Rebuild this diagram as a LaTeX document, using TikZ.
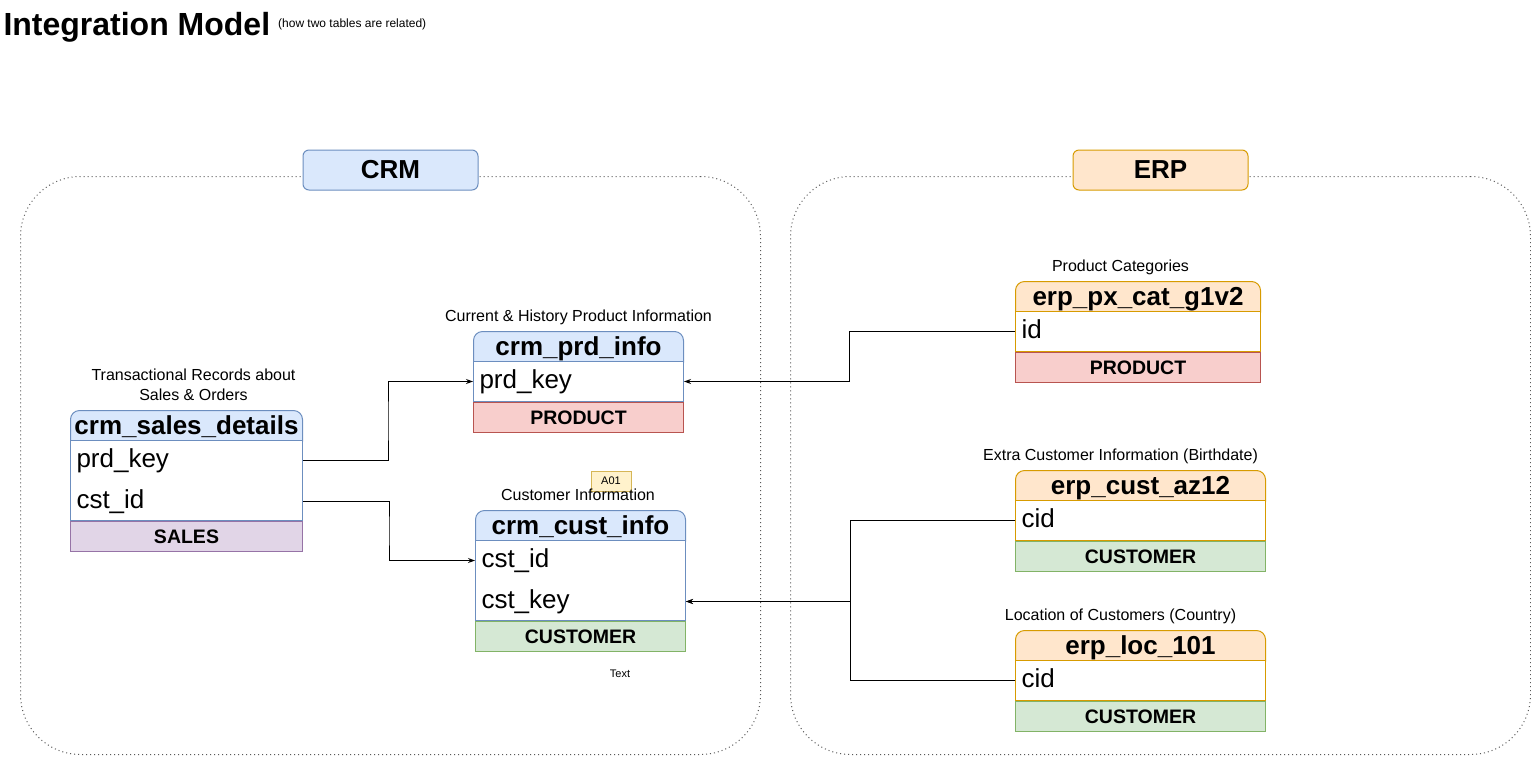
\documentclass[tikz,border=0pt]{standalone}
\usepackage{fontspec}
\setmainfont{Liberation Sans}
\usepackage{xcolor}
\usetikzlibrary{calc, positioning, arrows.meta}

\definecolor{crmfill}{HTML}{DAE8FC}
\definecolor{crmline}{HTML}{6C8EBF}
\definecolor{erpfill}{HTML}{FFE6CC}
\definecolor{erpline}{HTML}{D79B00}
\definecolor{salesfill}{HTML}{E1D5E7}
\definecolor{salesline}{HTML}{9673A6}
\definecolor{prodfill}{HTML}{F8CECC}
\definecolor{prodline}{HTML}{B85450}
\definecolor{custfill}{HTML}{D5E8D4}
\definecolor{custline}{HTML}{82B366}
\definecolor{notefill}{HTML}{FFF2CC}
\definecolor{noteline}{HTML}{D6B656}

\begin{document}
\begin{tikzpicture}[x=1pt, y=-1pt, line width=1pt,
		zone/.style={draw=black!65, dash pattern=on 1pt off 3pt, rounded corners=60pt, anchor=north west, minimum width=740pt, minimum height=578pt},
		zonelabel/.style={draw, rounded corners=6pt, minimum width=175pt, minimum height=40pt, font=\bfseries\fontsize{26}{30}\selectfont},
		tblhead/.style={draw, rounded corners=9pt, anchor=north west, inner xsep=0pt, inner ysep=4pt, text height=20.3pt, text depth=11.7pt, font=\bfseries\fontsize{26}{30}\selectfont},
		tblbody/.style={draw, fill=white, anchor=north west, inner sep=0pt},
		field/.style={anchor=north west, minimum height=40pt, inner xsep=6pt, inner ysep=0pt, align=left, text height=19pt, text depth=5pt, font=\fontsize{26}{30}\selectfont},
		tblfoot/.style={draw, anchor=north west, minimum height=30pt, inner sep=0pt, font=\bfseries\fontsize{19.5}{22}\selectfont},
		caption/.style={align=center, inner sep=0pt, text depth=3.5pt, font=\fontsize{16}{20}\selectfont},
		link/.style={-{Stealth[length=7pt, width=5pt]}}]
	\useasboundingbox (0,0) rectangle (1531,756);

	\node[anchor=base west, inner sep=0pt, font=\bfseries\fontsize{32}{38}\selectfont] (title) at (3,35) {Integration Model};
	\node[anchor=base west, inner sep=0pt, font=\fontsize{12}{14}\selectfont] (subtitle) at ([xshift=7pt, yshift=8pt]title.base east) {(how two tables are related)};

	\begin{scope}
		\node[zone] (crm) at (20,176) {};
		\node[zone] (erp) at (790,176) {};
		\node[zonelabel, fill=crmfill, draw=crmline] (crm-label) at (390.5,170) {CRM};
		\node[zonelabel, fill=erpfill, draw=erpline] (erp-label) at (1160.5,170) {ERP};
	\end{scope}

	\begin{scope}
		\node[tblhead, fill=crmfill, draw=crmline, minimum width=232pt] (sd-head) at (70,410) {crm\_sales\_details};
		\node[tblbody, draw=crmline, minimum width=232pt, minimum height=80pt] (sd-body) at ([yshift=-30pt]sd-head.north west) {};
		\node[field, text width=220pt] (sd-prd) at (sd-body.north west) {prd\_key};
		\node[field, text width=220pt, below=0pt of sd-prd] (sd-cst) {cst\_id};
		\node[tblfoot, fill=salesfill, draw=salesline, minimum width=232pt] (sd-foot) at (sd-body.south west) {SALES};
		\node[caption, above=6pt of sd-head, xshift=7pt] (sd-cap) {Transactional Records about\\Sales \& Orders};

		\node[tblhead, fill=crmfill, draw=crmline, minimum width=210pt] (pi-head) at (473,331) {crm\_prd\_info};
		\node[tblbody, draw=crmline, minimum width=210pt, minimum height=40pt] (pi-body) at ([yshift=-30pt]pi-head.north west) {};
		\node[field, text width=198pt] (pi-prd) at (pi-body.north west) {prd\_key};
		\node[tblfoot, fill=prodfill, draw=prodline, minimum width=210pt] (pi-foot) at (pi-body.south west) {PRODUCT};
		\node[caption, above=6pt of pi-head] (pi-cap) {Current \& History Product Information};

		\node[draw=noteline, fill=notefill, minimum width=40pt, minimum height=20pt, inner sep=0pt, font=\fontsize{11}{13}\selectfont] (note) at (611,481) {A01};

		\node[tblhead, fill=crmfill, draw=crmline, minimum width=210pt] (ci-head) at (475,510) {crm\_cust\_info};
		\node[tblbody, draw=crmline, minimum width=210pt, minimum height=80pt] (ci-body) at ([yshift=-30pt]ci-head.north west) {};
		\node[field, text width=198pt] (ci-id) at (ci-body.north west) {cst\_id};
		\node[field, text width=198pt, below=0pt of ci-id] (ci-key) {cst\_key};
		\node[tblfoot, fill=custfill, draw=custline, minimum width=210pt] (ci-foot) at (ci-body.south west) {CUSTOMER};
		\node[caption, above=6pt of ci-head, xshift=-2.5pt] (ci-cap) {Customer Information};

		\node[inner sep=0pt, font=\fontsize{11}{13}\selectfont] (text) at (620,674) {Text};
	\end{scope}

	\begin{scope}
		\node[tblhead, fill=erpfill, draw=erpline, minimum width=245pt] (px-head) at (1015,281) {erp\_px\_cat\_g1v2};
		\node[tblbody, draw=erpline, minimum width=245pt, minimum height=40pt] (px-body) at ([yshift=-30pt]px-head.north west) {};
		\node[field, text width=233pt] (px-id) at (px-body.north west) {id};
		\node[tblfoot, fill=prodfill, draw=prodline, minimum width=245pt] (px-foot) at (px-body.south west) {PRODUCT};
		\node[caption, above=6pt of px-head, xshift=-17.5pt] (px-cap) {Product Categories};

		\node[tblhead, fill=erpfill, draw=erpline, minimum width=250pt] (az-head) at (1015,470) {erp\_cust\_az12};
		\node[tblbody, draw=erpline, minimum width=250pt, minimum height=40pt] (az-body) at ([yshift=-30pt]az-head.north west) {};
		\node[field, text width=238pt] (az-cid) at (az-body.north west) {cid};
		\node[tblfoot, fill=custfill, draw=custline, minimum width=250pt] (az-foot) at (az-body.south west) {CUSTOMER};
		\node[caption, above=6pt of az-head, xshift=-20pt] (az-cap) {Extra Customer Information (Birthdate)};

		\node[tblhead, fill=erpfill, draw=erpline, minimum width=250pt] (loc-head) at (1015,630) {erp\_loc\_101};
		\node[tblbody, draw=erpline, minimum width=250pt, minimum height=40pt] (loc-body) at ([yshift=-30pt]loc-head.north west) {};
		\node[field, text width=238pt] (loc-cid) at (loc-body.north west) {cid};
		\node[tblfoot, fill=custfill, draw=custline, minimum width=250pt] (loc-foot) at (loc-body.south west) {CUSTOMER};
		\node[caption, above=6pt of loc-head, xshift=-20pt] (loc-cap) {Location of Customers (Country)};
	\end{scope}

	\begin{scope}[link]
		\foreach \a/\b in {sd-prd/pi-prd, sd-cst/ci-id}
		{
			\draw (\a.east) -| ($(\a.east)!.5!(\b.west)$) |- (\b.west);
		}
		\foreach \a/\b in {px-id/pi-prd, az-cid/ci-key, loc-cid/ci-key}
		{
			\draw (\a.west) -| ($(\a.west)!.5!(\b.east)$) |- (\b.east);
		}
	\end{scope}
\end{tikzpicture}
\end{document}
